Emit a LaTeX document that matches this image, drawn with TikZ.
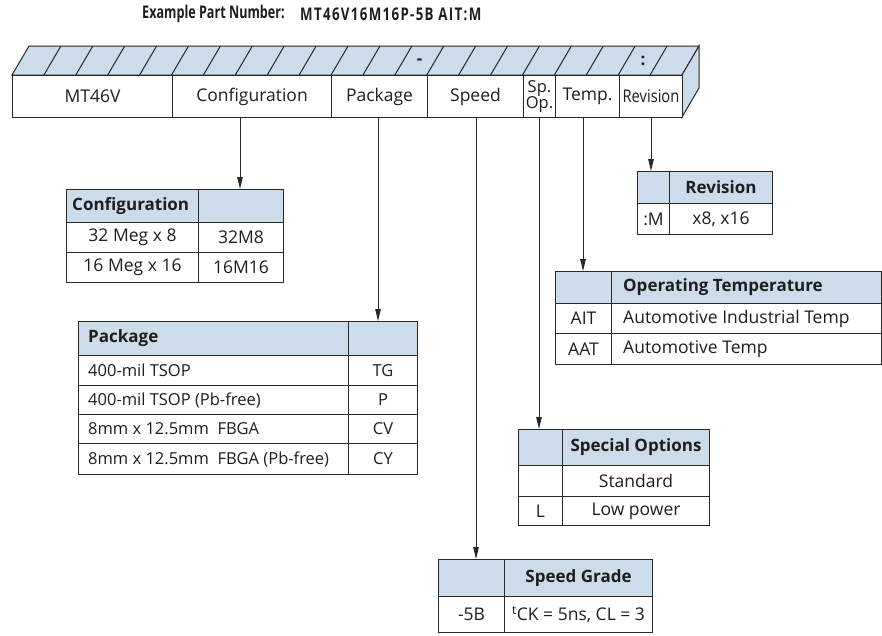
\documentclass[tikz,border=0pt]{standalone}
\usepackage{fontspec}
\setmainfont{Open Sans}
\usetikzlibrary{arrows.meta}
\definecolor{hdr}{RGB}{204,220,234}
\definecolor{ln}{RGB}{40,40,40}
\definecolor{tx}{RGB}{30,30,30}
\begin{document}
\begin{tikzpicture}[x=1pt,y=-1pt,
  font=\fontsize{17.5}{19}\selectfont, text=tx,
  box/.style={draw=ln, line width=1pt, inner sep=0pt, anchor=north west},
  sz/.style 2 args={minimum width=#1pt, minimum height=#2pt},
  hcell/.style={box, fill=hdr, font=\fontsize{17}{19}\selectfont\bfseries},
  hfont/.style={font=\fontsize{17}{19}\selectfont\bfseries},
  ltxt/.style={anchor=west, inner sep=0pt},
  pfont/.style={font=\fontsize{16.5}{19}\selectfont},
  arr/.style={draw=ln, line width=1pt, -{Triangle[length=12pt,width=5.5pt]}},
  small/.style={font=\fontsize{16.5}{16}\selectfont},
]
\useasboundingbox (0,0) rectangle (882,635);

% title
\node[anchor=west, font=\fontsize{17.5}{19}\selectfont\bfseries, inner sep=0pt] (ttl1) at (142,14)
  {\scalebox{0.72}[1]{Example Part Number:}};
\node[anchor=west, font=\fontsize{17.5}{19}\selectfont\bfseries, inner sep=0pt] (ttl2) at (300,14)
  {\scalebox{0.76}[1]{\addfontfeature{LetterSpace=10}MT46V16M16P-5B AIT:M}};

% top face of bar
\filldraw[draw=ln, line width=1pt, fill=hdr] (12,75) -- (29,46) -- (699,46) -- (682,75) -- cycle;
\foreach \k in {1,...,20} \draw[ln, line width=1pt] ({12+\k*31.905},75) -- ++(17,-29);
\filldraw[draw=ln, line width=1pt, fill=hdr] (682,75) -- (699,46) -- (699,88) -- (682,117) -- cycle;
\node[font=\fontsize{17}{19}\selectfont\bfseries] (dash) at (419.5,62) {-};
\node[font=\fontsize{17}{19}\selectfont\bfseries] (colon) at (643,61) {:};

% front of bar
\node[box, fill=white, sz={160}{42}] (mt) at (12,75) {MT46V};
\node[box, fill=white, sz={159}{42}] (cfg) at (172,75) {Configuration};
\node[box, fill=white, sz={96}{42}] (pkg) at (331,75) {Package};
\node[box, fill=white, sz={96}{42}] (spd) at (427,75) {Speed};
\node[box, fill=white, sz={32}{42}, small, align=center] (spo) at (523,75) {Sp.\\Op.};
\node[box, fill=white, sz={64}{42}] (tmp) at (555,75) {Temp.};
\node[box, fill=white, sz={63}{42}] (rev) at (619,75) {\scalebox{0.84}[1]{Revision}};

% Configuration table
\node[hcell, sz={132}{33}] (cfgH1) at (66,189) {};
\node[ltxt, hfont] (cfgH1t) at ([xshift=6pt]cfgH1.west) {Configuration};
\node[hcell, sz={85}{33}] (cfgH2) at (198,189) {};
\node[box, sz={132}{30}] (cfg11) at (66,222) {32 Meg x 8};
\node[box, sz={85}{30}] (cfg12) at (198,222) {32M8};
\node[box, sz={132}{30}] (cfg21) at (66,252) {16 Meg x 16};
\node[box, sz={85}{30}] (cfg22) at (198,252) {16M16};

% Package table
\node[hcell, sz={270}{34}] (pkH1) at (78,321) {};
\node[ltxt, hfont] (pkH1t) at ([xshift=10pt]pkH1.west) {Package};
\node[hcell, sz={69}{34}] (pkH2) at (348,321) {};
\node[box, sz={270}{30}] (pk11) at (78,355) {};
\node[ltxt, pfont] (pk11t) at ([xshift=10pt]pk11.west) {400-mil TSOP};
\node[box, sz={69}{30}, pfont] (pk12) at (348,355) {TG};
\node[box, sz={270}{29}] (pk21) at (78,385) {};
\node[ltxt, pfont] (pk21t) at ([xshift=10pt]pk21.west) {400-mil TSOP (Pb-free)};
\node[box, sz={69}{29}, pfont] (pk22) at (348,385) {P};
\node[box, sz={270}{29}] (pk31) at (78,414) {};
\node[ltxt, pfont] (pk31t) at ([xshift=10pt]pk31.west) {8mm x 12.5mm\ \ FBGA};
\node[box, sz={69}{29}, pfont] (pk32) at (348,414) {CV};
\node[box, sz={270}{31}] (pk41) at (78,443) {};
\node[ltxt, pfont] (pk41t) at ([xshift=10pt]pk41.west) {8mm x 12.5mm\ \ FBGA (Pb-free)};
\node[box, sz={69}{31}, pfont] (pk42) at (348,443) {CY};

% Revision table
\node[hcell, sz={32}{32}] (rvH1) at (637,171) {};
\node[hcell, sz={103}{32}] (rvH2) at (669,171) {Revision};
\node[box, sz={32}{31}] (rv11) at (637,203) {:M};
\node[box, sz={103}{31}] (rv12) at (669,203) {x8, x16};

% Temperature table
\node[hcell, sz={56}{32}] (tpH1) at (555,271) {};
\node[hcell, sz={270}{32}] (tpH2) at (611,271) {};
\node[ltxt, hfont] (tpH2t) at ([xshift=12pt]tpH2.west) {Operating Temperature};
\node[box, sz={56}{30}] (tp11) at (555,303) {AIT};
\node[box, sz={270}{30}] (tp12) at (611,303) {};
\node[ltxt] (tp12t) at ([xshift=12pt]tp12.west) {Automotive Industrial Temp};
\node[box, sz={56}{31}] (tp21) at (555,333) {AAT};
\node[box, sz={270}{31}] (tp22) at (611,333) {};
\node[ltxt] (tp22t) at ([xshift=12pt]tp22.west) {Automotive Temp};

% Special options table
\node[hcell, sz={44}{36}] (soH1) at (518,429) {};
\node[hcell, sz={147}{36}] (soH2) at (562,429) {Special Options};
\node[box, sz={44}{31}] (so11) at (518,465) {};
\node[box, sz={147}{31}] (so12) at (562,465) {Standard};
\node[box, sz={44}{29}] (so21) at (518,496) {L};
\node[box, sz={147}{29}] (so22) at (562,496) {Low power};

% Speed grade table
\node[hcell, sz={66}{37}] (sgH1) at (438,559) {};
\node[hcell, sz={148}{37}] (sgH2) at (504,559) {Speed Grade};
\node[box, sz={66}{36}] (sg11) at (438,596) {-5B};
\node[box, sz={148}{36}] (sg12) at (504,596) {\textsuperscript{t}CK = 5ns, CL = 3};

% arrows
\coordinate (aCfg) at (240,189);
\coordinate (aPkg) at (378,321);
\coordinate (aSpd) at (476,559);
\coordinate (aSpo) at (539,429);
\coordinate (aTmp) at (583,271);
\coordinate (aRev) at (651,171);
\draw[arr] (cfg.south -| aCfg) -- (aCfg);
\draw[arr] (pkg.south -| aPkg) -- (aPkg);
\draw[arr] (spd.south -| aSpd) -- (aSpd);
\draw[arr] (spo.south -| aSpo) -- (aSpo);
\draw[arr] (tmp.south -| aTmp) -- (aTmp);
\draw[arr] (rev.south -| aRev) -- (aRev);
\end{tikzpicture}
\end{document}
